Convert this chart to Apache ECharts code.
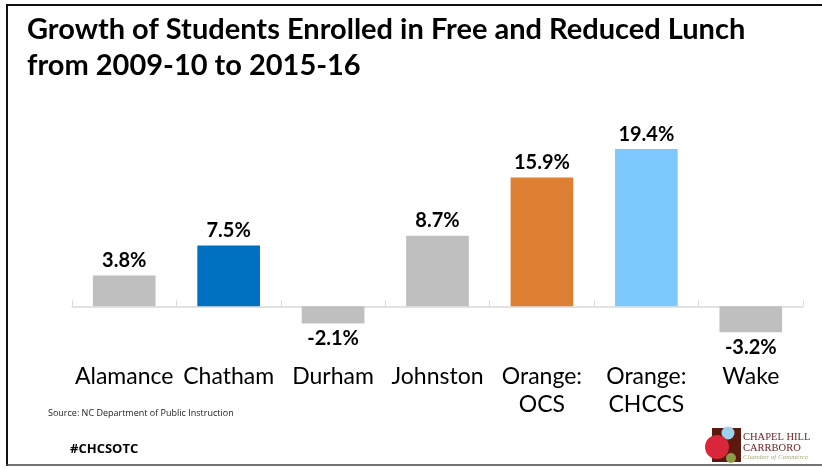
<!DOCTYPE html>
<html><head><meta charset="utf-8">
<script src="https://cdn.jsdelivr.net/npm/echarts@6/dist/echarts.min.js"></script>
<style>html,body{margin:0;padding:0;background:#fff}#c{width:822px;height:468px}</style>
</head><body><div id="c"></div>
<script>
const categories = ['Alamance', 'Chatham', 'Durham', 'Johnston', 'Orange:\nOCS', 'Orange:\nCHCCS', 'Wake'];
const growth = [3.8, 7.5, -2.1, 8.7, 15.9, 19.4, -3.2];
const barColors = ['#BFBFBF', '#0070C0', '#BFBFBF', '#BFBFBF', '#DD8033', '#7DC8FD', '#BFBFBF'];
const titleText = 'Growth of Students Enrolled in Free and Reduced Lunch\nfrom 2009-10 to 2015-16';
const sourceText = 'Source: NC Department of Public Instruction';
const hashTag = '#CHCSOTC';

const FONT = 'Lato, "Open Sans", sans-serif';
const chart = echarts.init(document.getElementById('c'), null, {renderer: 'canvas'});

const seriesData = growth.map((v, i) => ({
  value: v,
  itemStyle: {color: barColors[i]},
  label: {position: v < 0 ? 'bottom' : 'top'}
}));

chart.setOption({
  animation: false,
  backgroundColor: '#fff',
  title: {
    text: titleText,
    left: 22, top: 7,
    textStyle: {fontFamily: FONT, fontWeight: 'bold', fontSize: 29, lineHeight: 36, color: '#000'}
  },
  grid: {left: 72, right: 19, top: 128, bottom: 113},
  xAxis: [
    {
      type: 'category', data: categories, position: 'bottom',
      axisLine: {show: false, onZero: false}, axisTick: {show: false},
      axisLabel: {fontFamily: FONT, fontSize: 23, lineHeight: 28, color: '#000', margin: 8, interval: 0}
    },
    {
      type: 'category', data: categories, position: 'bottom',
      axisLine: {onZero: true, lineStyle: {color: '#D9D9D9', width: 1.5}},
      axisTick: {show: true, inside: true, length: 6, lineStyle: {color: '#D9D9D9'}},
      axisLabel: {show: false}
    }
  ],
  yAxis: {
    type: 'value', min: -6, max: 22, show: false, splitLine: {show: false}
  },
  series: [{
    type: 'bar',
    xAxisIndex: 0,
    data: seriesData,
    barWidth: '60%',
    label: {
      show: true, distance: 5,
      fontFamily: FONT, fontWeight: 'bold', fontSize: 20, color: '#000',
      formatter: p => p.value.toFixed(1) + '%'
    }
  }],
  graphic: [
    {type: 'line', shape: {x1: 7, y1: 5, x2: 822, y2: 5}, style: {stroke: '#111', lineWidth: 2}},
    {type: 'line', shape: {x1: 7, y1: 4, x2: 7, y2: 466}, style: {stroke: '#111', lineWidth: 2}},
    {type: 'line', shape: {x1: 6, y1: 465, x2: 822, y2: 465}, style: {stroke: '#444', lineWidth: 1.5}},
    {type: 'text', left: 48, top: 409, style: {text: sourceText, font: '9px "Open Sans", sans-serif', fill: '#222'}},
    {type: 'text', left: 70, top: 443, style: {text: hashTag, font: 'bold 13px "Open Sans", sans-serif', fill: '#000'}},
    {type: 'rect', shape: {x: 712, y: 428, width: 29, height: 34}, style: {fill: '#5A1A10'}},
    {type: 'circle', shape: {cx: 728, cy: 433, r: 6.5}, style: {fill: '#9ED3EE'}},
    {type: 'circle', shape: {cx: 717, cy: 447, r: 12}, style: {fill: '#D9263A'}},
    {type: 'circle', shape: {cx: 731, cy: 458, r: 5}, style: {fill: '#8C9A4A'}},
    {type: 'text', left: 743, top: 432, style: {text: 'CHAPEL HILL', font: '10.5px "Liberation Serif", serif', fill: '#6B1A1E'}},
    {type: 'text', left: 743, top: 443, style: {text: 'CARRBORO', font: '10.5px "Liberation Serif", serif', fill: '#6B1A1E'}},
    {type: 'text', left: 743, top: 454, style: {text: 'Chamber of Commerce', font: 'italic 7px "Liberation Serif", serif', fill: '#A7A77A'}}
  ]
});
</script></body></html>
